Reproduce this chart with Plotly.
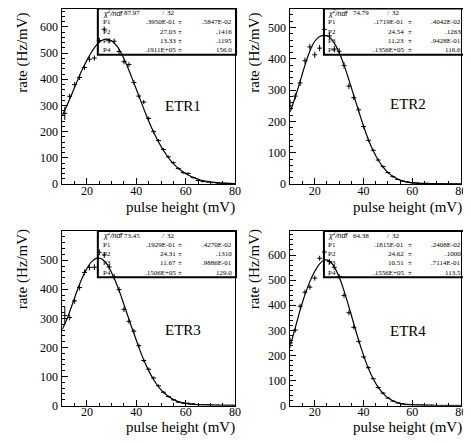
import plotly.graph_objects as go

W, H = 471, 443

# ---------------- data ----------------
bins_odd = [11, 13, 15, 17, 19, 21, 23, 25, 27, 29, 31, 33, 35, 37, 39, 41, 43, 45,
            47, 49, 51, 53, 55, 57, 59, 61, 63, 65, 67, 69, 71, 73, 75, 77, 79]
bins_even = [10, 12, 14, 16, 18, 20, 22, 24, 26, 28, 30, 32, 34, 36, 38, 40, 42, 44,
             46, 48, 50, 52, 54, 56, 58, 60, 62, 64, 66, 68, 70, 72, 74, 76, 78, 80]
fit_x = [10, 12, 14, 16, 18, 20, 22, 24, 26, 28, 30, 32, 34, 36, 38, 40, 42, 44,
         46, 48, 50, 52, 54, 56, 58, 60, 62, 64, 66, 68, 70, 72, 74, 76, 78, 80]

etr1_rate = [270, 335, 380, 407, 445, 476, 481, 548, 591, 547, 545, 506, 467, 456, 388, 336, 313, 251,
             200, 166, 132, 104, 82, 60, 44, 41, 25, 14, 10, 8, 6, 4, 3, 3, 2]
etr1_err = [25, 10, 10, 10, 10, 10, 10, 10, 10, 10, 10, 10, 10, 9, 9, 8, 8, 7,
            7, 6, 6, 5, 5, 4, 4, 4, 3, 3, 3, 2, 2, 2, 2, 2, 1]
etr1_fit = [262, 303, 347, 392, 435, 473, 506, 532, 548, 553, 546, 528, 497, 457, 410, 362, 312, 264,
            219, 179, 144, 114, 89, 69, 53, 40, 30, 22, 16, 12, 9, 6.5, 5, 3.8, 2.9, 2.2]

etr2_rate = [250, 281, 323, 394, 438, 413, 434, 494, 473, 431, 424, 379, 313, 276, 237, 184, 140, 108,
             77, 56, 37, 24, 15, 10, 7, 5, 4, 3, 3, 2, 2, 1, 1, 1, 1, 1]
etr2_err = [20, 10, 10, 10, 10, 10, 10, 10, 10, 10, 10, 10, 9, 8, 8, 7, 6, 5,
            5, 4, 3, 3, 2, 2, 2, 1, 1, 1, 1, 1, 1, 1, 1, 1, 1, 1]
etr2_fit = [232, 278, 328, 380, 425, 456, 471, 475, 470, 450, 420, 380, 333, 283, 233, 185, 142, 106,
            77, 54, 37, 25, 16, 10, 6.5, 4, 2.8, 2, 1.5, 1.2, 1, 0.8, 0.6, 0.5, 0.4, 0.3]

etr3_rate = [310, 303, 360, 406, 458, 475, 476, 527, 518, 477, 443, 399, 331, 290, 256, 206, 155, 125,
             95, 68, 46, 31, 20, 12, 9, 8, 6, 4, 3, 3, 2, 2, 1, 1, 1]
etr3_err = [30, 10, 10, 10, 10, 10, 10, 10, 10, 10, 10, 9, 9, 8, 8, 7, 6, 6,
            5, 5, 4, 3, 3, 2, 2, 2, 2, 1, 1, 1, 1, 1, 1, 1, 1]
etr3_fit = [262, 300, 347, 395, 438, 472, 496, 507, 504, 487, 457, 418, 372, 322, 272, 225, 178, 138,
            104, 76, 54, 38, 26, 17, 11, 7.5, 5, 3.5, 2.5, 2, 1.5, 1.2, 1, 0.8, 0.6, 0.5]

etr4_rate = [250, 301, 396, 452, 472, 508, 587, 612, 574, 551, 514, 439, 370, 312, 256, 194, 151, 107,
             72, 50, 30, 18, 11, 7, 5, 4, 3, 3, 2, 2, 1, 1, 1, 1, 1, 1]
etr4_err = [20, 10, 10, 10, 10, 10, 10, 10, 10, 10, 10, 10, 10, 9, 8, 7, 6, 5,
            5, 4, 3, 3, 2, 2, 2, 1, 1, 1, 1, 1, 1, 1, 1, 1, 1, 1]
etr4_fit = [240, 310, 380, 442, 494, 535, 565, 580, 576, 553, 512, 457, 393, 326, 260, 200, 148, 106,
            73, 49, 31, 19.5, 12, 7, 4, 2.5, 1.6, 1.1, 0.8, 0.6, 0.5, 0.4, 0.3, 0.3, 0.2, 0.2]

panel_names = ["ETR1", "ETR2", "ETR3", "ETR4"]
chi2_values = ["87.97", "74.79", "73.45", "64.38"]
ndf_values = ["32", "32", "32", "32"]
par_names = ["P1", "P2", "P3", "P4"]
par_values = [[".3950E-01", "27.03", "13.33", ".1911E+05"],
              [".1719E-01", "24.54", "11.23", ".1356E+05"],
              [".1929E-01", "24.31", "11.67", ".1506E+05"],
              [".1815E-01", "24.62", "10.51", ".1556E+05"]]
par_errors = [[".5847E-02", ".1416", ".1195", "156.0"],
              [".4042E-02", ".1263", ".9428E-01", "116.6"],
              [".4270E-02", ".1310", ".9886E-01", "129.0"],
              [".2408E-02", ".1000", ".7114E-01", "113.5"]]
x_title = "pulse height (mV)"
y_title = "rate (Hz/mV)"
x_ticks = [20, 40, 60, 80]

# ---------------- layout geometry ----------------
SERIF = "Liberation Serif, Times New Roman, serif"


def xp(px):
    return px / W


def yp(py):
    return 1 - py / H


cols = [dict(x0=55, x1=230, bx0=91, bx1=231, lab=95, val=171, pm=174.5, err=228,
             chi=135, sl=157, nd=170, ytitle=15, xtitle=231),
        dict(x0=286, x1=459, bx0=320, bx1=465, lab=323.5, val=402, pm=407.5, err=459.5,
             chi=367, sl=385, nd=398.5, ytitle=250, xtitle=461)]
rows = [dict(top=1, bot=179, xt=202.5, yt=3),
        dict(top=227, bot=404, xt=426, yt=223)]
ymax = [668, 559, 599, 694]
label_pos = [(177, 100), (405, 98), (177, 327), (405, 328)]

panels = [(bins_odd, etr1_rate, etr1_err, etr1_fit),
          (bins_even, etr2_rate, etr2_err, etr2_fit),
          (bins_odd, etr3_rate, etr3_err, etr3_fit),
          (bins_even, etr4_rate, etr4_err, etr4_fit)]

fig = go.Figure()
annotations = []
shapes = []
layout_axes = {}

for i, (bx, rate, err, fit) in enumerate(panels):
    c = cols[i % 2]
    r = rows[i // 2]
    n = i + 1
    xa = "x" if n == 1 else f"x{n}"
    ya = "y" if n == 1 else f"y{n}"
    fig.add_trace(go.Scatter(
        x=fit_x, y=fit, mode="lines", xaxis=xa, yaxis=ya,
        line=dict(color="black", width=1.2, shape="spline", smoothing=1.0),
        hoverinfo="skip", showlegend=False))
    fig.add_trace(go.Scatter(
        x=bx, y=rate, mode="markers", xaxis=xa, yaxis=ya,
        marker=dict(size=1, color="black"),
        error_x=dict(type="constant", value=1, width=0, thickness=1, color="black"),
        error_y=dict(type="data", array=err, width=0, thickness=1, color="black"),
        showlegend=False))
    xkey = "xaxis" if n == 1 else f"xaxis{n}"
    ykey = "yaxis" if n == 1 else f"yaxis{n}"
    layout_axes[xkey] = dict(
        domain=[xp(c["x0"]), xp(c["x1"])], anchor=ya, range=[10, 80],
        tickvals=x_ticks, ticks="inside", ticklen=6, tickwidth=1, tickcolor="black",
        minor=dict(dtick=5, tick0=0, ticks="inside", ticklen=3, tickcolor="black"),
        showline=True, linecolor="black", linewidth=1, mirror=True,
        showgrid=False, zeroline=False, ticklabelstandoff=-5,
        tickfont=dict(family=SERIF, size=12, color="black"))
    layout_axes[ykey] = dict(
        domain=[yp(r["bot"]), yp(r["top"])], anchor=xa, range=[0, ymax[i]],
        dtick=100, tick0=0, ticks="inside", ticklen=6, tickwidth=1, tickcolor="black",
        minor=dict(dtick=20, tick0=0, ticks="inside", ticklen=3, tickcolor="black"),
        showline=True, linecolor="black", linewidth=1, mirror=True,
        showgrid=False, zeroline=False, ticklabelstandoff=1,
        tickfont=dict(family=SERIF, size=12, color="black"))

    # axis titles
    annotations.append(dict(text=x_title, xref="paper", yref="paper",
                            x=xp(c["xtitle"]), y=yp(r["xt"]), xanchor="right", yanchor="middle",
                            showarrow=False, borderpad=0,
                            font=dict(family=SERIF, size=15, color="black")))
    annotations.append(dict(text=y_title, xref="paper", yref="paper", textangle=-90,
                            x=xp(c["ytitle"]), y=yp(r["yt"]), xanchor="center", yanchor="top",
                            showarrow=False, font=dict(family=SERIF, size=15, color="black")))
    # panel label
    lx, ly = label_pos[i]
    annotations.append(dict(text=panel_names[i], xref="paper", yref="paper",
                            x=xp(lx), y=yp(ly), xanchor="center", yanchor="middle",
                            showarrow=False, font=dict(family=SERIF, size=15, color="black")))
    # stat box
    top = r["top"] - 0.5
    shapes.append(dict(type="rect", xref="paper", yref="paper",
                       x0=xp(c["bx0"]), x1=xp(c["bx1"]), y0=yp(top + 47), y1=yp(top),
                       line=dict(color="black", width=2), fillcolor="rgba(0,0,0,0)", layer="above"))
    small = dict(family=SERIF, size=7, color="black")
    row_y = [top + 4.8, top + 14.2, top + 23.6, top + 33.0, top + 42.3]
    annotations.append(dict(text="<i>χ<sup>2</sup>/ndf</i>", xref="paper", yref="paper",
                            x=xp(c["lab"]), y=yp(row_y[0]), xanchor="left", yanchor="middle",
                            showarrow=False, borderpad=0,
                            font=dict(family="Liberation Sans, Arial, sans-serif", size=7, color="black")))
    annotations.append(dict(text=chi2_values[i], xref="paper", yref="paper",
                            x=xp(c["chi"]), y=yp(row_y[0]), xanchor="right", yanchor="middle",
                            showarrow=False, borderpad=0, font=small))
    annotations.append(dict(text="/", xref="paper", yref="paper",
                            x=xp(c["sl"]), y=yp(row_y[0]), xanchor="center", yanchor="middle",
                            showarrow=False, borderpad=0, font=small))
    annotations.append(dict(text=ndf_values[i], xref="paper", yref="paper",
                            x=xp(c["nd"]), y=yp(row_y[0]), xanchor="right", yanchor="middle",
                            showarrow=False, borderpad=0, font=small))
    for k in range(4):
        yy = yp(row_y[k + 1])
        annotations.append(dict(text=par_names[k], xref="paper", yref="paper",
                                x=xp(c["lab"]), y=yy, xanchor="left", yanchor="middle",
                                showarrow=False, borderpad=0, font=small))
        annotations.append(dict(text=par_values[i][k], xref="paper", yref="paper",
                                x=xp(c["val"]), y=yy, xanchor="right", yanchor="middle",
                                showarrow=False, borderpad=0, font=small))
        annotations.append(dict(text="±", xref="paper", yref="paper",
                                x=xp(c["pm"]), y=yy, xanchor="center", yanchor="middle",
                                showarrow=False, borderpad=0, font=small))
        annotations.append(dict(text=par_errors[i][k], xref="paper", yref="paper",
                                x=xp(c["err"]), y=yy, xanchor="right", yanchor="middle",
                                showarrow=False, borderpad=0, font=small))

fig.update_layout(width=W, height=H, margin=dict(l=0, r=0, t=0, b=0),
                  paper_bgcolor="white", plot_bgcolor="white",
                  annotations=annotations, shapes=shapes, **layout_axes)

fig.write_html("out.html")
